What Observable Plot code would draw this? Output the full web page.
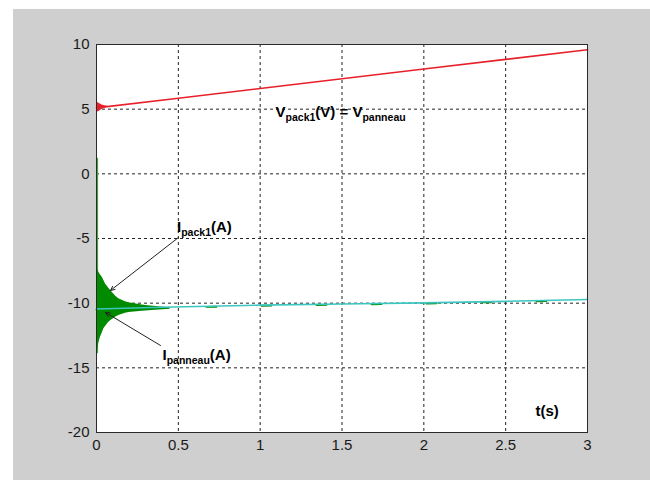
<!DOCTYPE html>
<html><head><meta charset="utf-8">
<script src="https://cdn.jsdelivr.net/npm/d3@7"></script>
<script src="https://cdn.jsdelivr.net/npm/@observablehq/plot@0.6"></script>
<style>
html,body{margin:0;padding:0;background:#fff;width:650px;height:480px;overflow:hidden}
#fig{position:absolute;left:13px;top:9px;width:637px;height:471px;background:#cfcfcf}
#fig svg{display:block}
</style></head><body><div id="fig"></div>
<script>
// ticks
const tTicks = [0, 0.5, 1, 1.5, 2, 2.5, 3];
const tTickLabels = ["0", "0.5", "1", "1.5", "2", "2.5", "3"];
const yTicks = [-20, -15, -10, -5, 0, 5, 10];
const yTickLabels = ["-20", "-15", "-10", "-5", "0", "5", "10"];

// V_pack1 = V_panneau (red)
const vT = [0, 0.5, 1, 1.5, 2, 2.5, 3];
const vVal = [5.1, 5.85, 6.6, 7.35, 8.1, 8.85, 9.6];
// red start-up ripple envelope
const vRipT = [0, 0.015, 0.03, 0.05, 0.07];
const vRipHi = [5.55, 5.45, 5.35, 5.27, 5.22];
const vRipLo = [4.75, 4.82, 4.95, 5.08, 5.17];

// I_pack1 (green) oscillation envelope
const iEnvT  = [0, 0.004, 0.014, 0.024, 0.035, 0.045, 0.055, 0.075, 0.086, 0.116, 0.136, 0.177, 0.198, 0.279, 0.3, 0.38, 0.45];
const iEnvHi = [-7.2, -7.29, -7.6, -7.8, -7.99, -8.25, -8.51, -8.85, -9.02, -9.45, -9.66, -9.9, -9.97, -10.15, -10.18, -10.28, -10.35];
const iEnvLo = [-13.9, -13.79, -13.1, -12.63, -12.3, -11.98, -11.8, -11.47, -11.35, -11.09, -10.95, -10.78, -10.72, -10.62, -10.6, -10.52, -10.47];
// I_pack1 initial spike at t = 0
const spikeT = [0];
const spikeTop = [1.2];
const spikeBottom = [-13.9];
// I_pack1 mean after settling (mostly hidden under I_panneau)
const iPackT = [0, 0.4, 1, 1.5, 2, 2.5, 3];
const iPackVal = [-10.5, -10.37, -10.2, -10.12, -10.03, -9.91, -9.77];

// I_panneau (cyan)
const iPanT = [0, 0.4, 1, 1.5, 2, 2.5, 3];
const iPanVal = [-10.45, -10.32, -10.15, -10.07, -9.98, -9.86, -9.72];

// annotations
const labelText = ["V_{pack1}(V) = V_{panneau}", "I_{pack1}(A)", "I_{panneau}(A)", "t(s)"];
const labelT = [1.094, 0.492, 0.403, 2.682];
const labelV = [4.36, -4.46, -14.43, -18.69];
const arrowT1 = [0.501, 0.391];
const arrowV1 = [-4.92, -13.27];
const arrowT2 = [0.0855, 0.055];
const arrowV2 = [-9.02, -10.72];

const idx = n => d3.range(n);

const plot = Plot.plot({
  width: 637, height: 471,
  marginLeft: 83, marginTop: 35, marginRight: 63, marginBottom: 48,
  style: {background: "transparent", fontFamily: "'Liberation Sans', Arial, sans-serif", fontSize: "15px", color: "#1a1a1a"},
  x: {domain: [0, 3], ticks: tTicks, tickFormat: d => tTickLabels[tTicks.indexOf(d)], tickSize: 0, tickPadding: 7, label: null},
  y: {domain: [-20, 10], ticks: yTicks, tickFormat: d => yTickLabels[yTicks.indexOf(d)], tickSize: 0, tickPadding: 7, label: null},
  marks: [
    Plot.frame({fill: "white", stroke: "none"}),
    Plot.ruleX(tTicks.slice(1, -1), {stroke: "#222", strokeDasharray: "3,3", strokeWidth: 1}),
    Plot.ruleY(yTicks.slice(1, -1), {stroke: "#222", strokeDasharray: "3,3", strokeWidth: 1}),
    // red
    Plot.areaY(idx(vRipT.length), {x: i => vRipT[i], y1: i => vRipLo[i], y2: i => vRipHi[i], fill: "#e8202a", curve: "linear"}),
    Plot.lineY(idx(vT.length), {x: i => vT[i], y: i => vVal[i], stroke: "#e8202a", strokeWidth: 1.6}),
    // green
    Plot.ruleX(spikeT, {y1: i => spikeTop[0], y2: i => spikeBottom[0], stroke: "#3daa3d", strokeWidth: 1.2, dx: 1}),
    Plot.areaY(idx(iEnvT.length), {x: i => iEnvT[i], y1: i => iEnvLo[i], y2: i => iEnvHi[i], fill: "#008a00", curve: "linear"}),
    Plot.lineY(idx(iPackT.length), {x: i => iPackT[i], y: i => iPackVal[i], stroke: "#008a00", strokeWidth: 1.8, strokeDasharray: "10,45"}),
    // cyan
    Plot.lineY(idx(iPanT.length), {x: i => iPanT[i], y: i => iPanVal[i], stroke: "#3cc6c0", strokeWidth: 1.6}),
    // arrows
    Plot.arrow(idx(2), {x1: i => arrowT1[i], y1: i => arrowV1[i], x2: i => arrowT2[i], y2: i => arrowV2[i], stroke: "#222", strokeWidth: 1, headLength: 7, headAngle: 50}),
    // labels
    Plot.text(idx(labelText.length), {x: i => labelT[i], y: i => labelV[i], text: i => labelText[i], textAnchor: "start", lineAnchor: "bottom", fontSize: 15, fontWeight: "bold", fill: "#000"}),
    Plot.frame({stroke: "#2a2a2a", strokeWidth: 1})
  ]
});

// render subscripts as tspans
d3.select(plot).selectAll("text").each(function () {
  const s = this.textContent;
  if (!s.includes("_{")) return;
  const parts = s.split(/(_\{[^}]*\})/).filter(p => p.length);
  this.textContent = "";
  let shifted = false;
  for (const p of parts) {
    const sub = p.startsWith("_{");
    const t = d3.select(this).append("tspan").text(sub ? p.slice(2, -1) : p);
    if (sub) { t.attr("font-size", "10.5px").attr("dy", shifted ? null : 4); shifted = true; }
    else { if (shifted) t.attr("dy", -4); shifted = false; }
  }
});

document.getElementById("fig").appendChild(plot);
</script></body></html>
